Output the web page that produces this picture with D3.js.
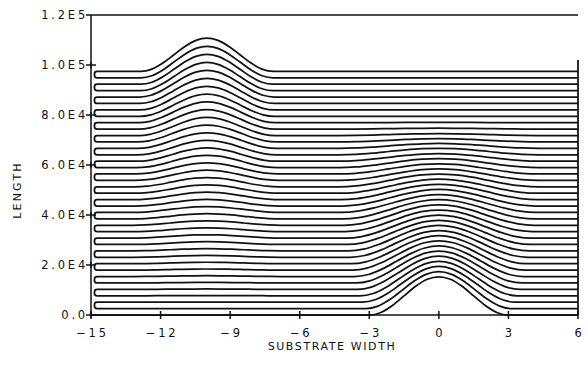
<!DOCTYPE html>
<html>
<head>
<meta charset="utf-8">
<script src="https://cdn.jsdelivr.net/npm/d3@7"></script>
<style>
  html, body { margin: 0; padding: 0; background: #fff; }
  svg { display: block; }
  text { font-family: "DejaVu Sans", sans-serif; fill: #111; }
</style>
</head>
<body>
<svg id="chart" width="587" height="376"></svg>
<script>
// ---- data ----
const xTicks = [-15, -12, -9, -6, -3, 0, 3, 6];
const xTickLabels = ["\u221215", "\u221212", "\u22129", "\u22126", "\u22123", "0", "3", "6"];
const yTicks = [0, 20000, 40000, 60000, 80000, 100000, 120000];
const yTickLabels = ["0.0", "2.0E4", "4.0E4", "6.0E4", "8.0E4", "1.0E5", "1.2E5"];
const xTitle = "SUBSTRATE WIDTH";
const yTitle = "LENGTH";

// flat level of every trace, bottom to top
const baselines = [0, 2560, 5130, 7690, 10260, 12820, 15380, 17950, 20510, 23080,
  25640, 28210, 30770, 33330, 35900, 38460, 41030, 43590, 46150, 48720,
  51280, 53850, 56410, 58970, 61540, 64100, 66670, 69230, 71790, 74360,
  76920, 79490, 82050, 84620, 87180, 89740, 92310, 94870, 97440];
// height of the bump centred at x = -10, per trace
const bumpLeft = [0, 10, 40, 80, 150, 230, 330, 450, 590, 750,
  920, 1110, 1330, 1560, 1800, 2070, 2360, 2660, 2980, 3320,
  3680, 4060, 4460, 4870, 5310, 5760, 6230, 6720, 7220, 7750,
  8290, 8850, 9430, 10030, 10650, 11280, 11940, 12610, 13300];
// half-width of the bump centred at x = -10, per trace
const widthLeft = [3.2, 3.2, 3.2, 3.2, 3.2, 3.2, 3.2, 3.2, 3.2, 3.2,
  3.2, 3.2, 3.2, 3.2, 3.2, 3.2, 3.2, 3.15, 3.15, 3.1,
  3.1, 3.1, 3.05, 3.05, 3.0, 3.0, 3.0, 3.0, 2.95, 2.95,
  2.95, 2.9, 2.9, 2.9, 2.9, 2.85, 2.85, 2.85, 2.85];
// height of the bump centred at x = 0, per trace
const bumpRight = [15300, 14800, 14280, 13770, 13260, 12750, 12240, 11730, 11220, 10710,
  10200, 9690, 9180, 8670, 8160, 7650, 7140, 6630, 6120, 5610,
  5100, 4590, 4080, 3570, 3060, 2600, 1950, 1300, 750, 350,
  120, 0, 0, 0, 0, 0, 0, 0, 0];
// half-width of the bump centred at x = 0, per trace
const widthRight = [3.0, 3.15, 3.3, 3.4, 3.5, 3.58, 3.65, 3.72, 3.78, 3.84,
  3.9, 3.95, 4.0, 4.05, 4.1, 4.15, 4.2, 4.2, 4.25, 4.25,
  4.3, 4.3, 4.3, 4.3, 4.3, 4.3, 4.3, 4.3, 4.3, 4.3,
  4.3, 4.3, 4.3, 4.3, 4.3, 4.3, 4.3, 4.3, 4.3];
const bumpCentres = [-10, 0];
// shape of one bump: offset (in half-widths) from its centre and fraction of its height
const bumpOffsets = [-1, -0.833, -0.667, -0.5, -0.333, -0.167, 0, 0.167, 0.333, 0.5, 0.667, 0.833, 1];
const bumpShape = [0, 0.067, 0.25, 0.5, 0.75, 0.933, 1, 0.933, 0.75, 0.5, 0.25, 0.067, 0];

// ---- layout ----
const plot = { left: 91, right: 578, top: 15, bottom: 315 };
const xDomain = [-15, 6], yDomain = [0, 120000];
const uTurnX = -14.85, uTurnR = 0.11;
const rightEdgeTop = 102000;

const svg = d3.select("#chart");
const xs = d3.scaleLinear().domain(xDomain).range([plot.left, plot.right]);
const ys = d3.scaleLinear().domain(yDomain).range([plot.bottom, plot.top]);

// ---- traces ----
const lineGen = d3.line().x(d => xs(d[0])).y(d => ys(d[1])).curve(d3.curveMonotoneX);
const traces = baselines.map((b, k) => {
  const pts = [];
  const startX = k === 0 ? xDomain[0] : uTurnX + uTurnR;
  pts.push([startX, b]);
  bumpOffsets.forEach((o, i) => pts.push([bumpCentres[0] + o * widthLeft[k], b + bumpLeft[k] * bumpShape[i]]));
  bumpOffsets.forEach((o, i) => pts.push([bumpCentres[1] + o * widthRight[k], b + bumpRight[k] * bumpShape[i]]));
  pts.push([xDomain[1], b]);
  return pts;
});
const gTr = svg.append("g").attr("fill", "none").attr("stroke", "#111").attr("stroke-width", 1.75);
gTr.selectAll("path.trace").data(traces).join("path").attr("class", "trace").attr("d", lineGen);

// left u-turns joining trace k and k+1 (k odd)
const pairs = d3.range(1, baselines.length - 1, 2);
gTr.selectAll("path.uturn").data(pairs).join("path").attr("class", "uturn")
  .attr("d", k => {
    const x0 = xs(uTurnX), x1 = xs(uTurnX + uTurnR), r = x1 - x0;
    const ylo = ys(baselines[k]), yhi = ys(baselines[k + 1]);
    return `M${x1},${ylo}Q${x0},${ylo} ${x0},${ylo - r}L${x0},${yhi + r}Q${x0},${yhi} ${x1},${yhi}`;
  });
// right edge
gTr.append("line").attr("x1", xs(xDomain[1])).attr("x2", xs(xDomain[1]))
  .attr("y1", ys(0)).attr("y2", ys(rightEdgeTop));

// ---- axes ----
const gAx = svg.append("g").attr("stroke", "#111").attr("stroke-width", 1.5).attr("fill", "none");
gAx.append("line").attr("x1", xs(xDomain[0])).attr("x2", xs(xDomain[1]))
  .attr("y1", ys(0)).attr("y2", ys(0));
gAx.append("line").attr("x1", xs(xDomain[0])).attr("x2", xs(xDomain[0]))
  .attr("y1", ys(0)).attr("y2", ys(yDomain[1]));
gAx.append("line").attr("x1", xs(xDomain[0])).attr("x2", xs(xDomain[1]))
  .attr("y1", ys(yDomain[1])).attr("y2", ys(yDomain[1]));

// y ticks ("+" marks)
yTicks.forEach(v => {
  if (v === yDomain[1]) {
    gAx.append("line").attr("x1", xs(xDomain[0]) - 5).attr("x2", xs(xDomain[0]))
      .attr("y1", ys(v)).attr("y2", ys(v));
  } else {
    gAx.append("line").attr("x1", xs(xDomain[0]) - 5).attr("x2", xs(xDomain[0]) + 5)
      .attr("y1", ys(v)).attr("y2", ys(v));
    gAx.append("line").attr("x1", xs(xDomain[0])).attr("x2", xs(xDomain[0]))
      .attr("y1", ys(v) - 3).attr("y2", ys(v) + 3);
  }
});
xTicks.forEach(v => {
  gAx.append("line").attr("x1", xs(v)).attr("x2", xs(v))
    .attr("y1", ys(0) - 4).attr("y2", ys(0) + 4);
});

// tick labels
svg.append("g").selectAll("text").data(yTicks).join("text")
  .attr("x", xs(xDomain[0]) - 3).attr("y", d => ys(d)).attr("dy", "0.36em")
  .attr("text-anchor", "end").style("font-size", "11.5px").style("letter-spacing", "2.8px")
  .text((d, i) => yTickLabels[i]);
svg.append("g").selectAll("text").data(xTicks).join("text")
  .attr("x", d => xs(d) + 1.5).attr("y", ys(0) + 22)
  .attr("text-anchor", "middle").style("font-size", "11.5px").style("letter-spacing", "2.8px")
  .text((d, i) => xTickLabels[i]);

// titles
svg.append("text").attr("x", 332).attr("y", 350).attr("text-anchor", "middle")
  .style("font-size", "11px").style("letter-spacing", "1.6px").text(xTitle);
svg.append("text").attr("transform", "translate(21,190) rotate(-90)").attr("text-anchor", "middle")
  .style("font-size", "11px").style("letter-spacing", "2.2px").text(yTitle);
</script>
</body>
</html>
